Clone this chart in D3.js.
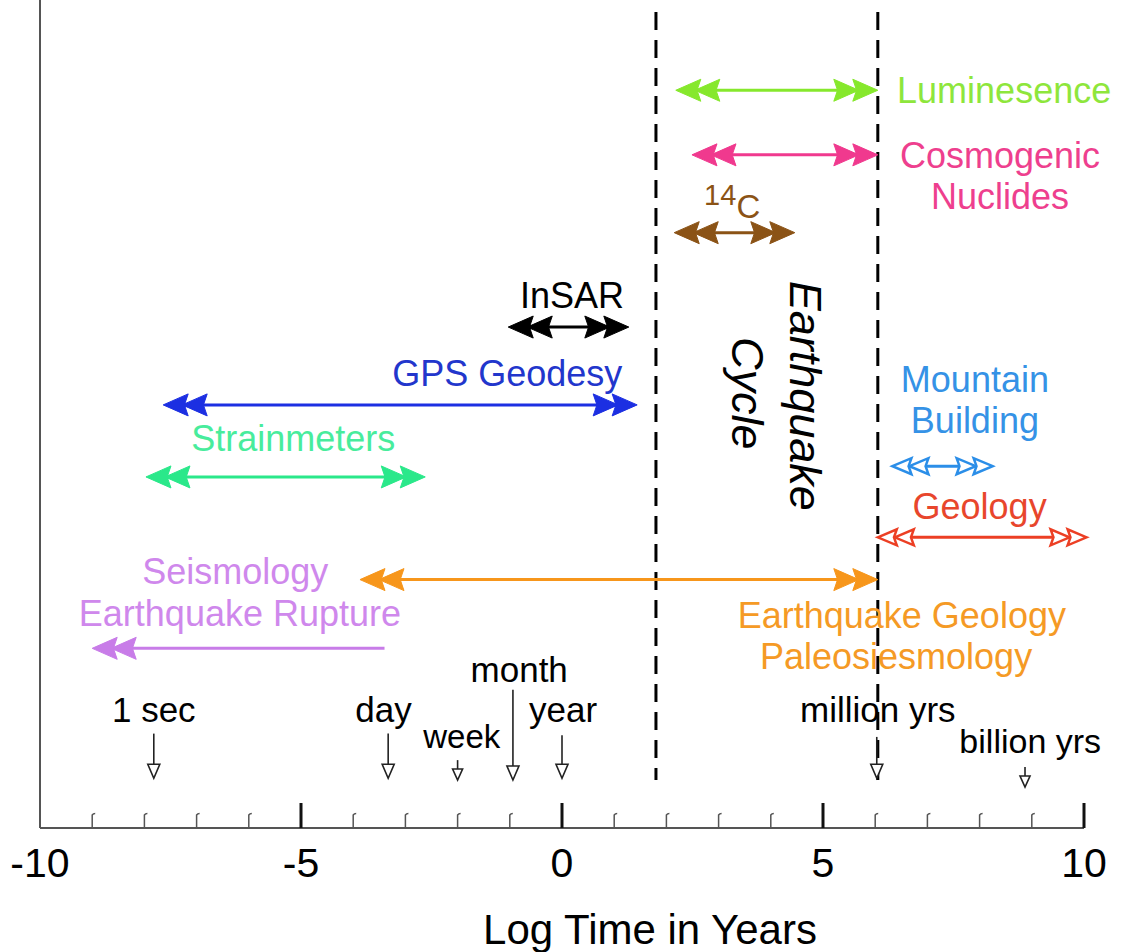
<!DOCTYPE html>
<html>
  <head>
    <meta charset="UTF-8">
    <title>Log time scales of geodetic and geologic methods</title>
    <script src="https://d3js.org/d3.v7.min.js"></script>
    <style>
      body { margin: 0; background: #fff; }
      text { font-family: "Liberation Sans", Arial, sans-serif; }
    </style>
  </head>
  <body>
    <svg id="chart" width="1122" height="952"></svg>
    <script>
      // Method ranges, in log10(years)
      const methodNames = ["Luminesence", "Cosmogenic Nuclides", "14C", "InSAR", "GPS Geodesy",
        "Strainmeters", "Mountain Building", "Geology", "Earthquake Geology", "Seismology"];
      const methodStart = [2.18, 2.49, 2.15, -1.03, -7.64, -7.97, 6.33, 6.05, -3.87, -9.0];
      const methodEnd = [6.05, 6.05, 4.46, 1.28, 1.44, -2.62, 8.25, 10.05, 6.05, -3.4];
      const methodLane = [8.91, 8.13, 7.19, 6.05, 5.11, 4.24, 4.37, 3.51, 3.0, 2.17];

      // Labels next to the arrows
      const labelText = ["Luminesence", "Cosmogenic", "Nuclides", "InSAR", "GPS Geodesy", "Strainmeters",
        "Mountain", "Building", "Geology", "Earthquake Geology", "Paleosiesmology", "Seismology", "Earthquake Rupture"];
      const labelX = [8.47, 8.39, 8.39, 0.19, -1.05, -5.15, 7.91, 7.91, 8.0, 6.51, 6.40, -6.26, -6.17];
      const labelLane = [8.76, 7.97, 7.48, 6.28, 5.34, 4.55, 5.27, 4.77, 3.73, 2.42, 1.92, 2.95, 2.44];
      const labelMethod = [0, 1, 1, 3, 4, 5, 6, 6, 7, 8, 8, 9, 9];

      // Reference time markers
      const markerText = ["1 sec", "day", "week", "month", "year", "million yrs", "billion yrs"];
      const markerX = [-7.82, -3.33, -2.0, -0.94, 0, 6.03, 8.87];
      const markerLabelX = [-7.82, -3.42, -1.92, -0.82, 0.02, 6.05, 8.97];
      const markerLabelLane = [1.28, 1.28, 0.97, 1.76, 1.28, 1.28, 0.906];
      const markerTop = [1.14, 1.14, 0.82, 1.67, 1.12, 1.10, 0.737];
      const markerBottom = [0.6, 0.6, 0.58, 0.58, 0.6, 0.6, 0.495];

      const dividers = [1.8, 6.05];
      const majorTicks = [-10, -5, 0, 5, 10];
      const minorTicks = d3.range(-9, 10).filter(d => d % 5 !== 0);

      const colors = ["#86e82c", "#f0398e", "#8b5316", "#000000", "#1c2fe2",
        "#2ae88a", "#2b8ee8", "#ec3f24", "#f7961b", "#c87ce8"];
      const textColors = ["#8ee63c", "#ee3f8e", "#8b5316", "#000000", "#2236cc",
        "#48ec9c", "#3592e6", "#e8462c", "#f59a25", "#cf88ec"];
      const hollow = [false, false, false, false, false, false, true, true, false, false];

      const svg = d3.select("#chart");
      const x = d3.scaleLinear().domain([-10, 10]).range([40, 1084]);
      const y = d3.scaleLinear().domain([0, 10]).range([828, 0]);

      // Axes frame
      svg.append("line")
        .attr("x1", x(-10)).attr("x2", x(-10)).attr("y1", 0).attr("y2", y(0))
        .attr("stroke", "#555").attr("stroke-width", 2);
      svg.append("line")
        .attr("x1", x(-10)).attr("x2", x(10)).attr("y1", y(0)).attr("y2", y(0))
        .attr("stroke", "#555").attr("stroke-width", 2);

      svg.append("g").selectAll("path")
        .data(minorTicks)
        .join("path")
        .attr("d", d => `M${x(d)},${y(0)} V${y(0) - 13} q1,-1.5 3,-1.5`)
        .attr("fill", "none").attr("stroke", "#555").attr("stroke-width", 1.5);

      svg.append("g").selectAll("line")
        .data(majorTicks.filter(d => d > -10))
        .join("line")
        .attr("x1", d => x(d)).attr("x2", d => x(d))
        .attr("y1", y(0)).attr("y2", y(0) - 25)
        .attr("stroke", "#111").attr("stroke-width", 3);

      svg.append("g").selectAll("text")
        .data(majorTicks)
        .join("text")
        .attr("x", d => x(d)).attr("y", 877)
        .attr("text-anchor", "middle")
        .attr("font-size", 41)
        .text(d => d);

      svg.append("text")
        .attr("x", x(0) + 88).attr("y", 944)
        .attr("text-anchor", "middle")
        .attr("font-size", 42)
        .text("Log Time in Years");

      // Dashed dividers
      svg.append("g").selectAll("line")
        .data(dividers)
        .join("line")
        .attr("x1", d => x(d)).attr("x2", d => x(d))
        .attr("y1", 12).attr("y2", 780)
        .attr("stroke", "#000").attr("stroke-width", 3)
        .attr("stroke-dasharray", "18,10");

      // Double arrowhead helper
      function heads(g, tip, yy, dir, color, open, len, hw, gap) {
        [gap, 0].forEach(off => {
          const t = tip - dir * off;
          g.append("path")
            .attr("d", `M${t},${yy} L${t - dir * len},${yy - hw} L${t - dir * len * 0.85},${yy} L${t - dir * len},${yy + hw} Z`)
            .attr("fill", open ? "#fff" : color)
            .attr("stroke", color)
            .attr("stroke-width", open ? 2.5 : 1)
            .attr("stroke-linejoin", "miter");
        });
      }

      const arrows = svg.append("g");
      methodNames.forEach((name, i) => {
        const g = arrows.append("g");
        const x0 = x(methodStart[i]), x1 = x(methodEnd[i]), yy = y(methodLane[i]);
        const open = hollow[i];
        const len = open ? 19 : 25, hw = open ? 8 : 11, gap = open ? 17 : 19;
        const both = name !== "Seismology";
        const inset = open ? gap + len * 0.85 : 8;
        g.append("line")
          .attr("x1", x0 + inset).attr("x2", both ? x1 - inset : x1)
          .attr("y1", yy).attr("y2", yy)
          .attr("stroke", colors[i]).attr("stroke-width", 3);
        heads(g, x0, yy, -1, colors[i], open, len, hw, gap);
        if (both) heads(g, x1, yy, 1, colors[i], open, len, hw, gap);
      });

      // Method labels
      svg.append("g").selectAll("text")
        .data(labelText)
        .join("text")
        .attr("x", (d, i) => x(labelX[i]))
        .attr("y", (d, i) => y(labelLane[i]))
        .attr("text-anchor", "middle")
        .attr("font-size", 36)
        .attr("fill", (d, i) => textColors[labelMethod[i]])
        .text(d => d);

      const c14 = svg.append("text")
        .attr("x", x(3.26)).attr("y", y(7.37))
        .attr("text-anchor", "middle")
        .attr("font-size", 33)
        .attr("fill", textColors[2]);
      c14.append("tspan").attr("font-size", 29).attr("dy", -13).text("14");
      c14.append("tspan").attr("dy", 13).text("C");

      // Earthquake Cycle, rotated
      const cycle = svg.append("g").attr("font-style", "italic").attr("font-size", 45);
      cycle.append("text")
        .attr("transform", `translate(${x(4.36)},${y(5.22)}) rotate(90)`)
        .attr("text-anchor", "middle")
        .text("Earthquake");
      cycle.append("text")
        .attr("transform", `translate(${x(3.26)},${y(5.25)}) rotate(90)`)
        .attr("text-anchor", "middle")
        .text("Cycle");

      // Time markers
      const markers = svg.append("g");
      markerText.forEach((t, i) => {
        const mx = x(markerX[i]);
        const top = y(markerTop[i]), bot = y(markerBottom[i]);
        const small = i === 2 || i === 6;
        const hl = small ? 11 : 14, hw = small ? 5 : 6;
        markers.append("text")
          .attr("x", x(markerLabelX[i])).attr("y", y(markerLabelLane[i]))
          .attr("text-anchor", "middle")
          .attr("font-size", i === 6 ? 34 : (i === 2 ? 33 : 35))
          .text(t);
        markers.append("line")
          .attr("x1", mx).attr("x2", mx)
          .attr("y1", top).attr("y2", bot - hl)
          .attr("stroke", "#222").attr("stroke-width", 1.6);
        markers.append("path")
          .attr("d", `M${mx - hw},${bot - hl} L${mx + hw},${bot - hl} L${mx},${bot} Z`)
          .attr("fill", "#fff").attr("stroke", "#222").attr("stroke-width", 1.6);
      });
    </script>
  </body>
</html>
